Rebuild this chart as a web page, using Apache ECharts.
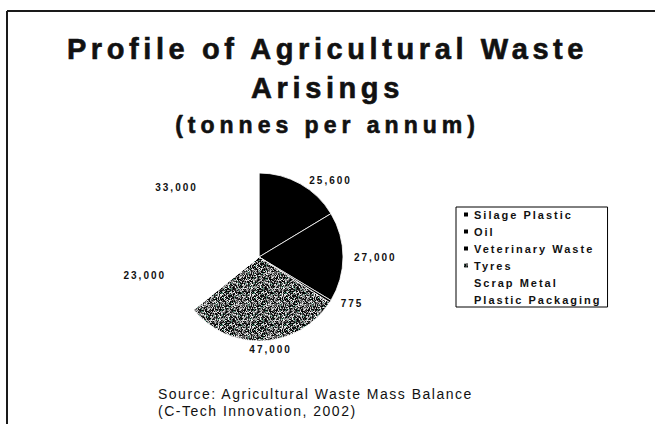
<!DOCTYPE html>
<html>
<head>
<meta charset="utf-8">
<title>Profile of Agricultural Waste Arisings</title>
<script src="https://cdn.jsdelivr.net/npm/echarts@6/dist/echarts.min.js"></script>
<style>
  html, body { margin: 0; padding: 0; background: #fff; }
  #chart { width: 655px; height: 424px; }
</style>
</head>
<body>
<div id="chart"></div>
<script>
// Waste streams and annual tonnages
const categories = ['Silage Plastic', 'Oil', 'Veterinary Waste', 'Tyres', 'Scrap Metal', 'Plastic Packaging'];
const tonnes = [25600, 27000, 775, 47000, 23000, 33000];

const titleLines = ['Profile of Agricultural Waste', 'Arisings', '(tonnes per annum)'];
const sourceLines = ['Source: Agricultural Waste Mass Balance', '(C-Tech Innovation, 2002)'];

const FONT = '"Liberation Sans", Arial, sans-serif';

// Speckled grey fill used for the tyres slice
function speckle() {
  const size = 32;
  const c = document.createElement('canvas');
  c.width = size; c.height = size;
  const ctx = c.getContext('2d');
  const shades = ['#000000', '#000000', '#101010', '#2a2a2a', '#4a4a4a', '#6a6a6a',
                  '#8c8c8c', '#adadad', '#cfcfcf', '#f4f4f4', '#1a1a1a', '#bcbcbc'];
  for (let y = 0; y < size; y++) {
    for (let x = 0; x < size; x++) {
      let h = Math.imul(x + 11, 374761393) ^ Math.imul(y + 7, 668265263);
      h = Math.imul(h ^ (h >>> 13), 1274126177);
      h = (h ^ (h >>> 16)) >>> 0;
      let col = shades[h % shades.length];
      if ((h >>> 8) % 19 === 0) col = '#4f8a74';
      ctx.fillStyle = col;
      ctx.fillRect(x, y, 1, 1);
    }
  }
  return { image: c, repeat: 'repeat' };
}

const sliceColors = ['#000000', '#000000', '#000000', speckle(), '#ffffff', '#ffffff'];

const pieData = categories.map((name, i) => ({
  name: name,
  value: tonnes[i],
  itemStyle: { color: sliceColors[i] }
}));

// Extra tracking per font size (the canvas text engine has no letter-spacing option)
const tracking = { 29: 4.6, 23: 5, 14: 1.5, 11: 2, 10: 2 };

const PIE_CENTER = [259, 257];
const PIE_R = 84;

const headStyle = size => ({
  fontFamily: FONT, fontSize: size, fontWeight: 'bold', color: '#111',
  textBorderColor: '#111', textBorderWidth: 0.6
});

const chart = echarts.init(document.getElementById('chart'), null, { renderer: 'svg' });

chart.setOption({
  animation: false,
  backgroundColor: '#ffffff',
  title: [
    { text: titleLines[0], left: 'center', top: 29, textStyle: headStyle(29) },
    { text: titleLines[1], left: 'center', top: 68, textStyle: headStyle(29) },
    { text: titleLines[2], left: 'center', top: 108, textStyle: headStyle(23) },
    { text: sourceLines.join('\n'), left: 153, top: 380,
      textStyle: { fontFamily: FONT, fontSize: 14, fontWeight: 'normal', color: '#111', lineHeight: 17 } }
  ],
  legend: {
    orient: 'vertical',
    left: 456,
    top: 207,
    padding: [2, 40, 2, 6],
    itemWidth: 6,
    itemHeight: 6,
    itemGap: 6,
    icon: 'rect',
    borderColor: '#000',
    borderWidth: 1,
    data: categories,
    textStyle: { fontFamily: FONT, fontSize: 11, fontWeight: 'bold', color: '#111' }
  },
  graphic: [
    { type: 'line', shape: { x1: 7, y1: 11, x2: 655, y2: 11 }, style: { stroke: '#1a1a1a', lineWidth: 2 } },
    { type: 'line', shape: { x1: 7, y1: 11, x2: 7, y2: 424 }, style: { stroke: '#1a1a1a', lineWidth: 2 } }
  ],
  series: [{
    type: 'pie',
    center: PIE_CENTER,
    radius: [0, PIE_R],
    startAngle: 90,
    clockwise: true,
    avoidLabelOverlap: false,
    itemStyle: { borderColor: '#ffffff', borderWidth: 0.8 },
    label: {
      show: true,
      position: 'outside',
      fontFamily: FONT,
      fontSize: 10,
      fontWeight: 'bold',
      color: '#111',
      formatter: p => p.value.toLocaleString('en-US')
    },
    labelLine: { show: false, length: 4, length2: 2 },
    // labels sitting under the pie are centred on their slice and hang below it
    labelLayout: p => (p.labelRect.y > PIE_CENTER[1] + PIE_R * 0.8
      ? { align: 'center', verticalAlign: 'top' } : {}),
    emphasis: { disabled: true },
    data: pieData
  }]
});

function applyTracking() {
  document.querySelectorAll('#chart text').forEach(t => {
    const fs = parseFloat(t.style.fontSize || getComputedStyle(t).fontSize);
    const key = Math.round(fs);
    if (tracking[key] !== undefined) t.style.letterSpacing = tracking[key] + 'px';
  });
}
chart.on('finished', applyTracking);
applyTracking();
setTimeout(applyTracking, 50);
</script>
</body>
</html>
